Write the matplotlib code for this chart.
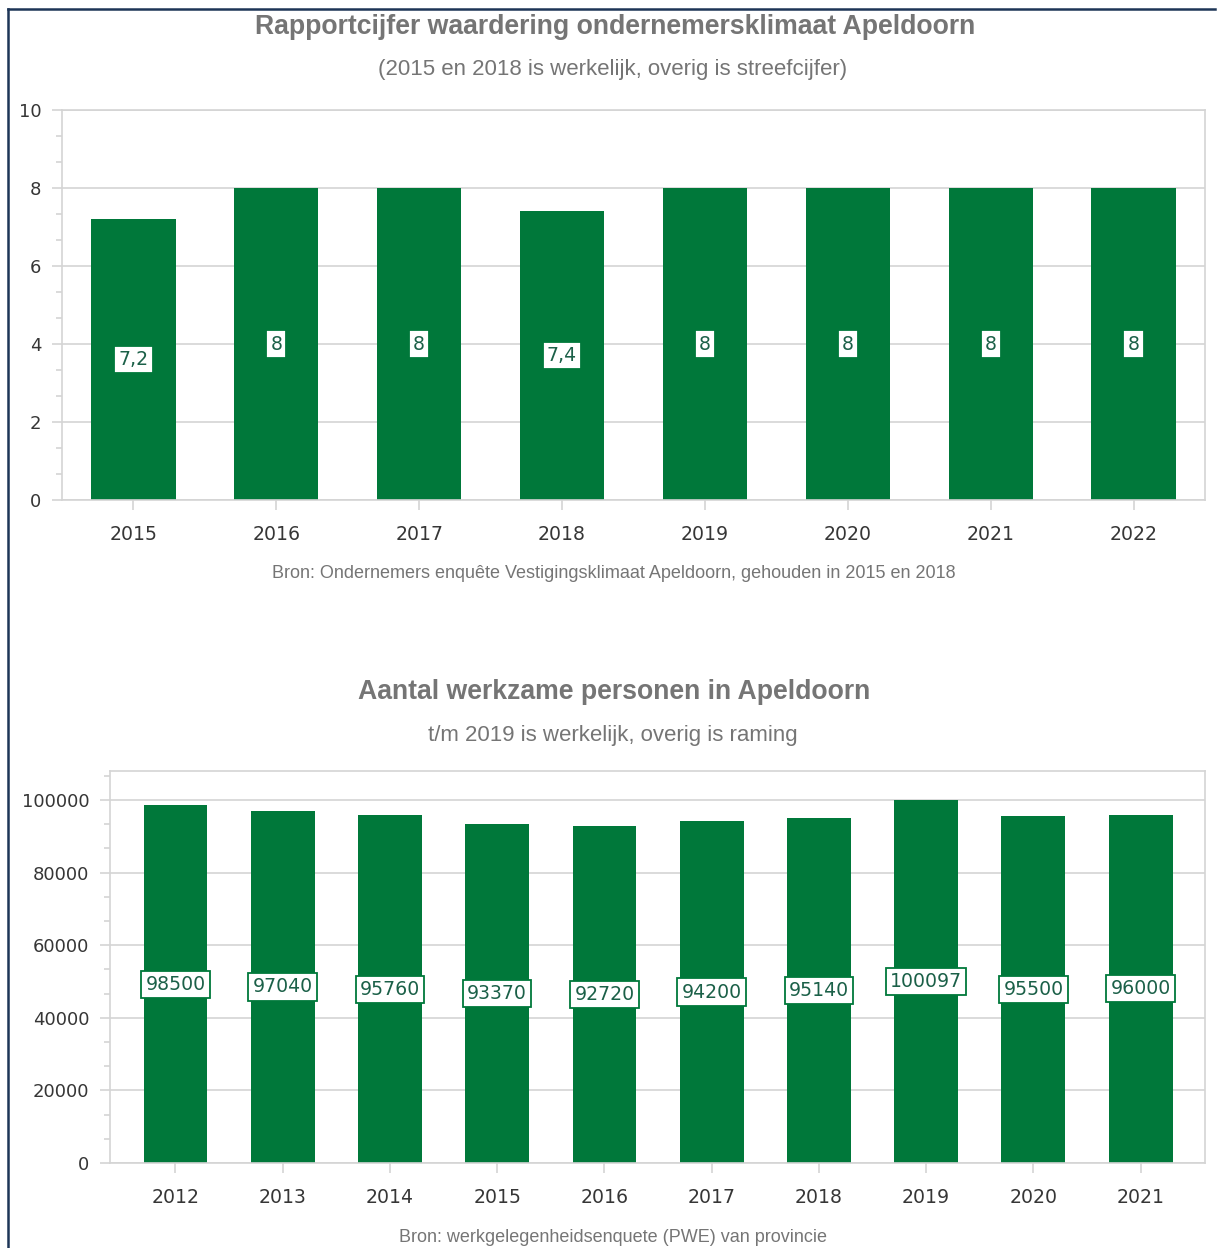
import matplotlib
matplotlib.use("Agg")
import matplotlib.pyplot as plt
from matplotlib.lines import Line2D
import numpy as np

# data
years_top = ["2015", "2016", "2017", "2018", "2019", "2020", "2021", "2022"]
cijfer = [7.2, 8, 8, 7.4, 8, 8, 8, 8]
cijfer_labels = ["7,2", "8", "8", "7,4", "8", "8", "8", "8"]

years_bottom = ["2012", "2013", "2014", "2015", "2016", "2017", "2018", "2019", "2020", "2021"]
werkzaam = [98500, 97040, 95760, 93370, 92720, 94200, 95140, 100097, 95500, 96000]

GREEN = "#00783a"
LABEL_TXT = "#1b6048"
GRID = "#d4d4d4"
TICKTXT = "#363636"
TITLE = "#757575"
FONT = "Liberation Sans"
NUMFONT = "DejaVu Sans"

W, H = 1223, 1248
fig = plt.figure(figsize=(W / 100, H / 100), dpi=100)
fig.patch.set_facecolor("white")


def px_axes(x0, y0, x1, y1):
    return fig.add_axes([x0 / W, 1 - y1 / H, (x1 - x0) / W, (y1 - y0) / H])


def style_axes(ax, nminor):
    for s in ax.spines.values():
        s.set_color(GRID)
        s.set_linewidth(1.2)
    ax.grid(axis="y", color=GRID, linewidth=1.2)
    ax.set_axisbelow(True)
    ax.tick_params(axis="y", which="major", length=7, color=GRID, width=1.2,
                   labelsize=13, labelcolor=TICKTXT, pad=8)
    ax.tick_params(axis="y", which="minor", length=4, color=GRID, width=1.2)
    ax.tick_params(axis="x", length=7, color=GRID, width=1.2,
                   labelsize=13.6, labelcolor=TICKTXT, pad=11)
    ax.yaxis.set_minor_locator(matplotlib.ticker.AutoMinorLocator(nminor))
    for lab in ax.get_xticklabels() + ax.get_yticklabels():
        lab.set_family(NUMFONT)


def add_labels(ax, xs, vals, texts):
    # value box in the middle of each bar
    for x, v, t in zip(xs, vals, texts):
        ax.text(x, v / 2, t, ha="center", va="center", fontsize=13.6,
                family=NUMFONT, color=LABEL_TXT,
                bbox=dict(boxstyle="square,pad=0.22", facecolor="white",
                          edgecolor=GREEN, linewidth=1.3))


# top chart
ax1 = px_axes(62, 110, 1205, 500)
x1 = np.arange(len(years_top))
ax1.bar(x1, cijfer, width=0.59, color=GREEN)
ax1.set_xlim(-0.5, len(years_top) - 0.5)
ax1.set_ylim(0, 10)
ax1.set_yticks([0, 2, 4, 6, 8, 10])
ax1.set_xticks(x1)
ax1.set_xticklabels(years_top)
style_axes(ax1, 3)
add_labels(ax1, x1, cijfer, cijfer_labels)

fig.text(615 / W, 1 - 27 / H, "Rapportcijfer waardering ondernemersklimaat Apeldoorn",
         ha="center", va="center", fontsize=19.2, fontweight="bold", color=TITLE, family=FONT)
fig.text(613 / W, 1 - 70 / H, "(2015 en 2018 is werkelijk, overig is streefcijfer)",
         ha="center", va="center", fontsize=16, color=TITLE, family=FONT)
fig.text(614 / W, 1 - 573 / H, "Bron: Ondernemers enquête Vestigingsklimaat Apeldoorn, gehouden in 2015 en 2018",
         ha="center", va="center", fontsize=13, color=TITLE, family=FONT)

# bottom chart
ax2 = px_axes(110, 771, 1205, 1163)
x2 = np.arange(len(years_bottom))
ax2.bar(x2, werkzaam, width=0.595, color=GREEN)
ax2.set_xlim(-0.61, len(years_bottom) - 0.4)
ax2.set_ylim(0, 108000)
ax2.set_yticks([0, 20000, 40000, 60000, 80000, 100000])
ax2.set_xticks(x2)
ax2.set_xticklabels(years_bottom)
style_axes(ax2, 3)
add_labels(ax2, x2, werkzaam, [str(v) for v in werkzaam])

fig.text(614 / W, 1 - 692 / H, "Aantal werkzame personen in Apeldoorn",
         ha="center", va="center", fontsize=19.2, fontweight="bold", color=TITLE, family=FONT)
fig.text(613 / W, 1 - 735 / H, "t/m 2019 is werkelijk, overig is raming",
         ha="center", va="center", fontsize=16, color=TITLE, family=FONT)
fig.text(613 / W, 1 - 1237 / H, "Bron: werkgelegenheidsenquete (PWE) van provincie",
         ha="center", va="center", fontsize=13, color=TITLE, family=FONT)

# outer frame (left and top edges)
fig.add_artist(Line2D([8 / W, 8 / W], [0, 1 - 9 / H], color="#1d3557", linewidth=1.8))
fig.add_artist(Line2D([8 / W, 1215 / W], [1 - 9 / H, 1 - 9 / H], color="#1d3557", linewidth=1.8))

fig.savefig("out.png", dpi=100)
